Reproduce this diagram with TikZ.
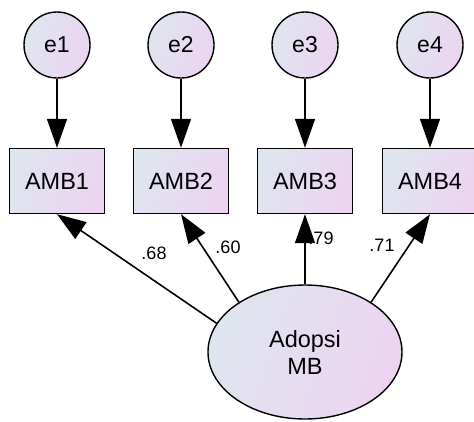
\documentclass[tikz,border=0pt]{standalone}
\usepackage{fontspec}
\setmainfont{Liberation Sans}
\usetikzlibrary{shapes.geometric,arrows.meta}
\begin{document}
\begin{tikzpicture}[x=1pt,y=-1pt,
  fillgrad/.style={left color={rgb,255:red,223;green,229;blue,239},right color={rgb,255:red,236;green,212;blue,241},shading angle=70},
  errc/.style={circle,draw,line width=1.4pt,fillgrad,minimum size=66pt,inner sep=0pt,font=\fontsize{23}{26}\selectfont},
  obs/.style={rectangle,draw,line width=1.4pt,fillgrad,minimum width=95pt,minimum height=65pt,inner sep=0pt,font=\fontsize{23.5}{26}\selectfont},
  lat/.style={ellipse,draw,line width=1.4pt,fillgrad,minimum width=194pt,minimum height=134pt,inner sep=0pt,align=center,font=\fontsize{23.5}{27}\selectfont},
  pth/.style={line width=1.6pt,-{Triangle[length=29pt,width=20pt]}},
  wlab/.style={font=\fontsize{18}{20}\selectfont,inner sep=0pt}]
\useasboundingbox (0,0) rectangle (474,421);
\fill[white] (0,0) rectangle (474,421);
\node[errc] (e1) at (57,45) {e1};
\node[errc] (e2) at (181,45) {e2};
\node[errc] (e3) at (305,45) {e3};
\node[errc] (e4) at (430,45) {e4};
\node[obs] (a1) at (57,181) {AMB1};
\node[obs] (a2) at (181,181) {AMB2};
\node[obs] (a3) at (305,181) {AMB3};
\node[obs] (a4) at (430,181) {AMB4};
\node[lat] (F) at (305,352) {Adopsi\\MB};
\node[wlab] (l1) at (154,253) {.68};
\node[wlab] (l2) at (228,247) {.60};
\node[wlab] (l3) at (321,238) {.79};
\node[wlab] (l4) at (382,245) {.71};
\foreach \i in {1,2,3,4} {\draw[pth] (e\i) -- (a\i);}
\draw[pth] (F.162) -- (a1.south);
\draw[pth] (F.143) -- (a2.south);
\draw[pth] (F.north) -- (a3.south);
\draw[pth] (F.37) -- (a4.south);
\end{tikzpicture}
\end{document}
